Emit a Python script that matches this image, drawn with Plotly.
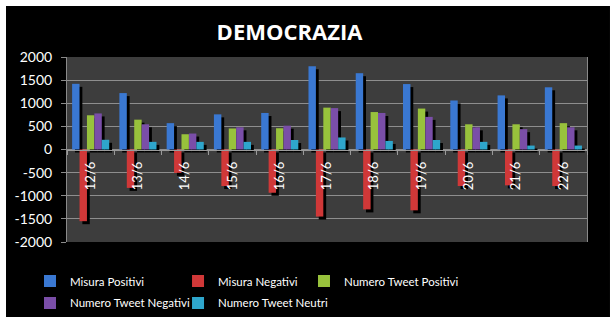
import plotly.graph_objects as go

categories = ["12/6", "13/6", "14/6", "15/6", "16/6", "17/6", "18/6", "19/6", "20/6", "21/6", "22/6"]
misura_positivi = [1420, 1220, 570, 760, 790, 1800, 1650, 1415, 1060, 1170, 1345]
misura_negativi = [-1550, -830, -505, -790, -935, -1450, -1295, -1315, -790, -775, -790]
tweet_positivi = [740, 645, 330, 455, 460, 905, 810, 885, 545, 545, 570]
tweet_negativi = [780, 545, 345, 480, 515, 895, 790, 705, 480, 440, 480]
tweet_neutri = [210, 165, 165, 165, 205, 260, 185, 205, 165, 85, 85]

series_names = ["Misura Positivi", "Misura Negativi", "Numero Tweet Positivi",
                "Numero Tweet Negativi", "Numero Tweet Neutri"]
series_values = [misura_positivi, misura_negativi, tweet_positivi, tweet_negativi, tweet_neutri]
colors = ["#3A78D2", "#D03838", "#98C23C", "#7A4EA8", "#2EA6CC"]
legend_ids = ["legend", "legend2", "legend3", "legend4", "legend5"]
# legend placement (container fractions) per entry
legend_x = [0.0487, 0.289, 0.4935, 0.0487, 0.289]
legend_y = [0.130, 0.130, 0.130, 0.062, 0.062]

y_ticks = [-2000, -1500, -1000, -500, 0, 500, 1000, 1500, 2000]

bar_w = 0.157
offsets = [-0.392 + i * bar_w for i in range(5)]
shadow_dx = 0.06
shadow_dy = -65

fig = go.Figure()

# shadows first
for vals, off in zip(series_values, offsets):
    fig.add_trace(go.Bar(x=categories, y=vals, base=shadow_dy, width=bar_w,
                         offset=off + shadow_dx, marker=dict(color="#000000", line=dict(width=0)),
                         showlegend=False, hoverinfo="skip"))

for name, vals, off, c, lg in zip(series_names, series_values, offsets, colors, legend_ids):
    fig.add_trace(go.Bar(x=categories, y=vals, width=bar_w, offset=off, name=name, legend=lg,
                         marker=dict(color=c, line=dict(width=0))))

legend_common = dict(orientation="h", xref="container", yref="container", xanchor="left",
                     yanchor="middle", font=dict(family="Lato", size=11.5, color="#ffffff"),
                     bgcolor="rgba(0,0,0,0)", borderwidth=0)

legends = {lg: dict(legend_common, x=lx, y=ly) for lg, lx, ly in zip(legend_ids, legend_x, legend_y)}

fig.update_layout(
    width=616, height=323,
    margin=dict(l=67, r=29, t=57, b=81, autoexpand=False),
    barmode="overlay",
    paper_bgcolor="#ffffff",
    plot_bgcolor="rgba(0,0,0,0)",
    font=dict(family="Lato", color="#ffffff", size=13),
    title=dict(text="<b>DEMOCRAZIA</b>", x=0.47, xanchor="center", y=0.9, yanchor="middle",
               font=dict(family="Open Sans", size=22, color="#ffffff")),
    showlegend=True,
    shapes=[
        dict(type="rect", xref="paper", yref="paper", x0=-0.1173, x1=1.0442, y0=-0.4054, y1=1.2757,
             fillcolor="#000000", line=dict(width=0), layer="below"),
        dict(type="rect", xref="paper", yref="paper", x0=0, x1=1, y0=0, y1=1,
             fillcolor="#3d3d3d", line=dict(width=0), layer="below"),
    ],
    **legends,
)

fig.update_yaxes(range=[-2000, 2000], tickvals=y_ticks, ticktext=[str(v) for v in y_ticks],
                 showgrid=True, gridcolor="#8e8e8e", gridwidth=1, zeroline=False,
                 showline=True, linecolor="#8a8a8a", linewidth=1, mirror=True,
                 ticks="outside", ticklen=5, tickcolor="#8a8a8a", ticklabelstandoff=6,
                 tickfont=dict(family="Lato", size=14, color="#ffffff"))

fig.update_xaxes(type="category", anchor="free", position=0.5, showgrid=False, zeroline=False,
                 showline=True, linecolor="#9a9a9a", linewidth=1,
                 ticks="outside", tickson="boundaries", ticklen=4, tickcolor="#9a9a9a",
                 tickangle=-90, ticklabelstandoff=6,
                 tickfont=dict(family="Lato", size=13, color="#ffffff"))

fig.write_html("out.html")
